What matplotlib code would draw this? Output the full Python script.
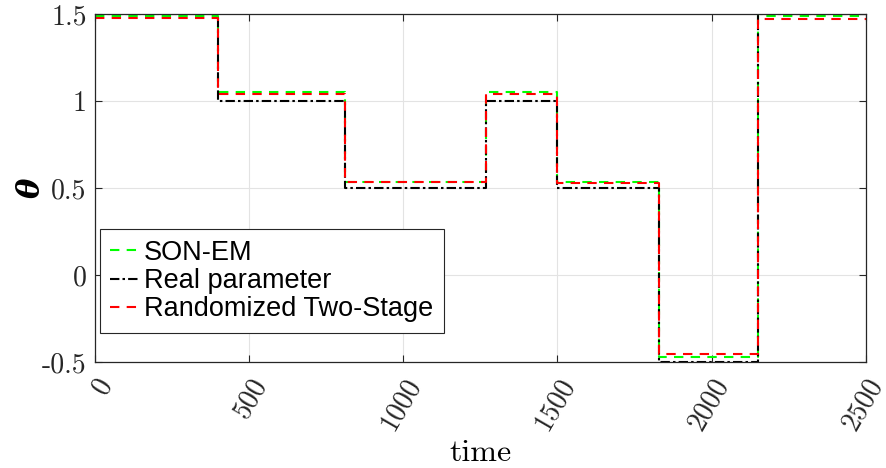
import matplotlib
matplotlib.use('Agg')
import matplotlib.pyplot as plt
import numpy as np

plt.rcParams['mathtext.fontset'] = 'cm'
plt.rcParams['font.family'] = ['DejaVu Serif']

# switching times of the piecewise-constant parameter
t_edges = [0, 400, 810, 1270, 1500, 1830, 2150, 2500]
real_param = [1.5, 1.0, 0.5, 1.0, 0.5, -0.5, 1.5]
son_em = [1.49, 1.05, 0.535, 1.05, 0.535, -0.47, 1.49]
two_stage = [1.475, 1.04, 0.535, 1.04, 0.53, -0.455, 1.47]

x_ticks = [0, 500, 1000, 1500, 2000, 2500]
y_ticks = [-0.5, 0, 0.5, 1, 1.5]
y_tick_labels = ['-0.5', '0', '0.5', '1', '1.5']

fig = plt.figure(figsize=(8.87, 4.68), dpi=100)
ax = fig.add_axes([0.107, 0.2265, 0.869, 0.7435])

def stairs(vals):
    return np.array(t_edges), np.append(vals, vals[-1])

x, y = stairs(son_em)
ax.step(x, y, where='post', color='#00ff00', linestyle=(0, (4.5, 3.5)), lw=1.5, label='SON-EM')
x, y = stairs(real_param)
ax.step(x, y, where='post', color='black', linestyle=(0, (4.5, 1.5, 1.2, 1.5)), lw=1.5, label='Real parameter')
x, y = stairs(two_stage)
ax.step(x, y, where='post', color='#ff0000', linestyle=(0, (4.5, 3.5)), lw=1.5, label='Randomized Two-Stage')

ax.set_xlim(0, 2500)
ax.set_ylim(-0.5, 1.5)
ax.set_xticks(x_ticks)
ax.set_xticklabels([str(v) for v in x_ticks], rotation=60, fontsize=20, family='cmr10')
ax.set_yticks(y_ticks)
ax.set_yticklabels(y_tick_labels, fontsize=20, family='cmr10')
for lab in ax.get_xticklabels():
    lab.set_ha('right')
    lab.set_va('top')
    lab.set_rotation_mode('anchor')

ax.grid(True, color='#e3e3e3', lw=0.8)
ax.set_axisbelow(True)
ax.tick_params(direction='in', top=True, right=True, length=5, width=0.8, colors='#262626', pad=6)
ax.tick_params(axis='x', pad=8)
for s in ax.spines.values():
    s.set_color('#262626')
    s.set_linewidth(0.9)

ax.set_xlabel('time', fontsize=23, family='cmr10', labelpad=4)
ax.set_ylabel('θ', fontsize=22, fontweight='bold', fontstyle='italic', rotation=90)
ax.yaxis.set_label_coords(-0.062, 0.5)

leg = ax.legend(loc='lower left', bbox_to_anchor=(0.006, 0.083), prop={'family': 'Liberation Sans', 'size': 19.5},
                handlelength=1.1, handletextpad=0.15, borderpad=0.4, labelspacing=0.08,
                borderaxespad=0, fancybox=False, framealpha=1, edgecolor='#262626')
leg.get_frame().set_linewidth(0.8)

fig.savefig('out.png', dpi=100)
